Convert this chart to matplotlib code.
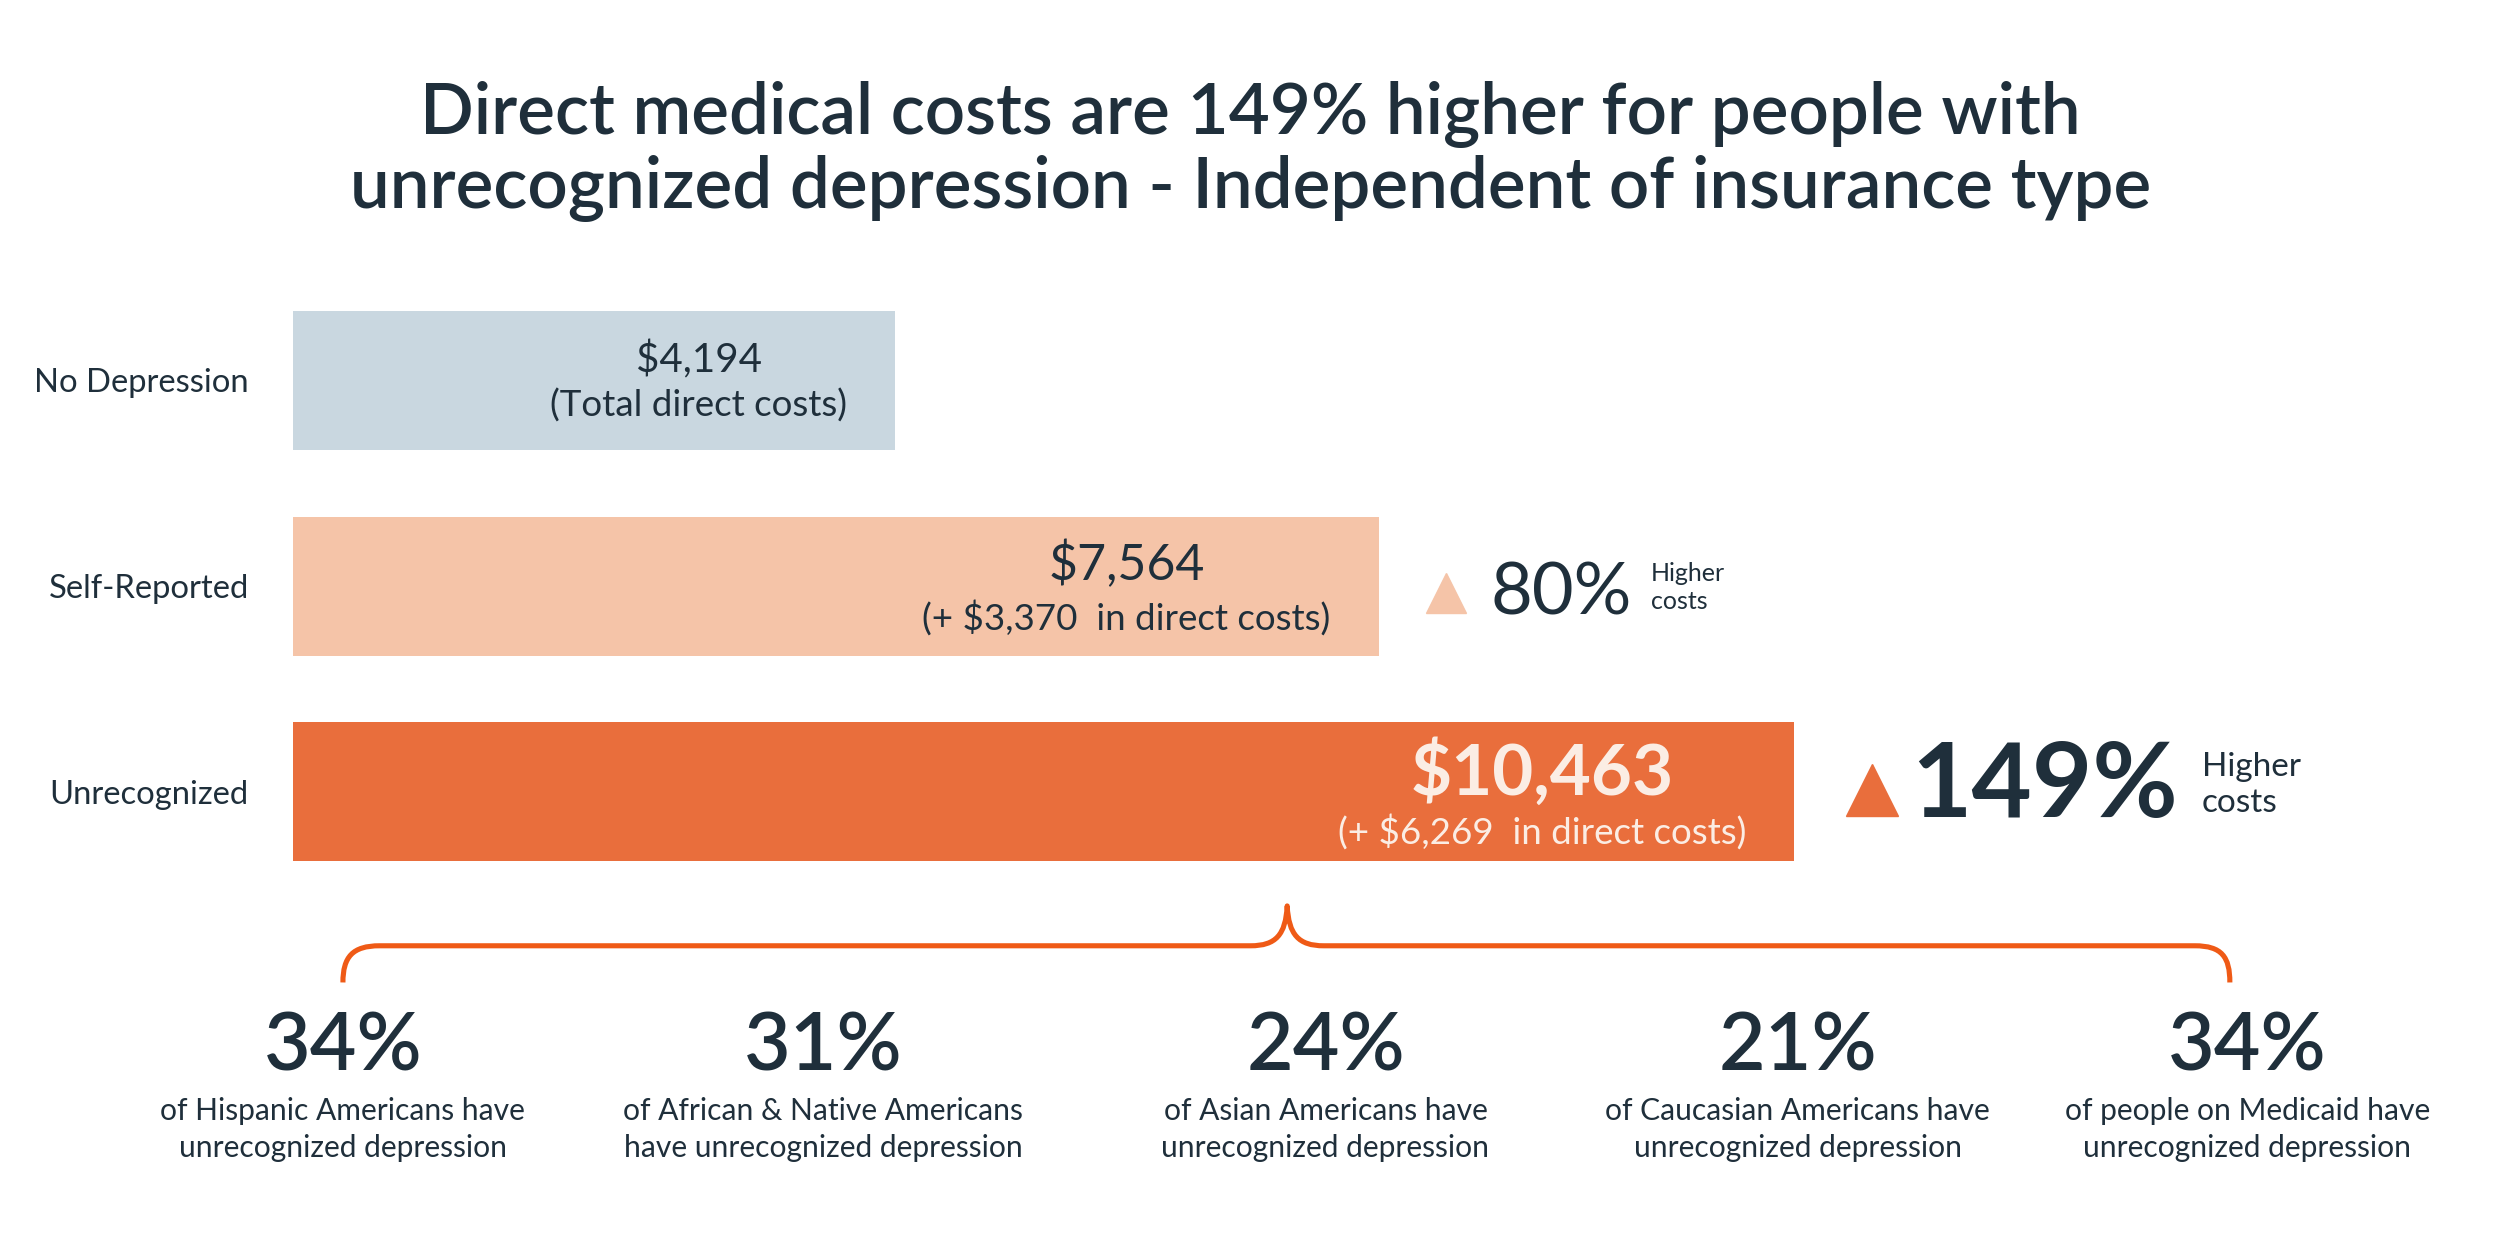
import matplotlib
matplotlib.use('Agg')
import matplotlib.pyplot as plt
from matplotlib.path import Path
from matplotlib.patches import PathPatch

plt.rcParams['font.family'] = ['Lato', 'DejaVu Sans']

# ---------------- data ----------------
categories = ['No Depression', 'Self-Reported', 'Unrecognized']
total_costs = [4194, 7564, 10463]
cost_notes = ['(Total direct costs)', '(+ $3,370  in direct costs)', '(+ $6,269  in direct costs)']
pct_higher = [None, 80, 149]

group_pcts = [34, 31, 24, 21, 34]
group_labels = [
    'of Hispanic Americans have\nunrecognized depression',
    'of African & Native Americans\nhave unrecognized depression',
    'of Asian Americans have\nunrecognized depression',
    'of Caucasian Americans have\nunrecognized depression',
    'of people on Medicaid have\nunrecognized depression',
]

title = ('Direct medical costs are 149% higher for people with\n'
         'unrecognized depression - Independent of insurance type')

# ---------------- style ----------------
DARK = '#1F2F3B'
CREAM = '#FBEDE4'
bar_colors = ['#C9D7E0', '#F5C4A8', '#E96E3C']
value_colors = [DARK, DARK, CREAM]
value_sizes = [29, 36, 51]
value_weights = ['normal', 'normal', 'bold']
note_sizes = [26.5, 26.5, 26.5]
BRACE = '#EF5A16'

FW, FH, DPI = 2501, 1252, 100
RW, RH = 1568, 785            # layout units
PX = FW / RW                  # layout unit -> pixels
S = PX * 72 / DPI             # layout unit -> points


def fx(x):
    return x / RW


def fy(y):
    return 1 - y / RH


fig = plt.figure(figsize=(FW / DPI, FH / DPI), dpi=DPI)
fig.patch.set_facecolor('white')

fig.text(0.5, fy(95), title, ha='center', va='center', fontsize=51,
         fontweight='semibold', color=DARK, linespacing=1.12)

# ---------------- bars ----------------
ax = fig.add_axes([fx(184), fy(540), fx(1125) - fx(184), (540 - 195) / RH])
n = len(categories)
bh = 87 / 129
ax.barh(range(n), total_costs, height=bh, color=bar_colors)
ax.set_xlim(0, max(total_costs))
ax.set_ylim(n - 1 + bh / 2, -bh / 2)
ax.set_yticks(range(n), categories, fontsize=23.6, color=DARK)
ax.tick_params(axis='y', length=0, pad=28 * S)
ax.set_xticks([])
for sp in ax.spines.values():
    sp.set_visible(False)
ax.patch.set_visible(False)

note_dy = [-16, -20, -25]
value_dy = [13, 13, 12]
notes = []
for i, (c, note) in enumerate(zip(total_costs, cost_notes)):
    t = ax.annotate(note, (c, i), xytext=(-30 * S, note_dy[i] * S),
                    textcoords='offset points', ha='right', va='center',
                    fontsize=note_sizes[i], color=value_colors[i])
    notes.append(t)

fig.canvas.draw()
renderer = fig.canvas.get_renderer()

for i, c in enumerate(total_costs):
    bb = notes[i].get_window_extent(renderer)
    end_px = ax.transData.transform((c, i))[0]
    off = (bb.x0 + bb.x1) / 2 - end_px
    ax.annotate(f'${c:,}', (c, i), xytext=(off, value_dy[i] * PX),
                textcoords='offset pixels', ha='center', va='center',
                fontsize=value_sizes[i], fontweight=value_weights[i],
                color=value_colors[i])

# triangles + percentages
tri_dx = [None, 42, 48.5]
tri_dy = [None, -4, 1]
tri_size = [None, 25, 33]
pct_dx = [None, 70, 73]
pct_dy = [None, -5, 3]
pct_size = [None, 52, 75]
pct_weight = [None, 'normal', 'bold']
hc_gap = [None, 12, 15]
hc_dy = [None, -1, 4]
hc_size = [None, 18, 24]

pct_texts = {}
for i, p in enumerate(pct_higher):
    if p is None:
        continue
    ax.plot([total_costs[i]], [i], marker='^', markersize=tri_size[i] * S,
            color=bar_colors[i], clip_on=False,
            transform=ax.transData + matplotlib.transforms.ScaledTranslation(
                tri_dx[i] * S / 72, tri_dy[i] * S / 72, fig.dpi_scale_trans))
    t = ax.annotate(f'{p}%', (total_costs[i], i),
                    xytext=(pct_dx[i] * S, pct_dy[i] * S),
                    textcoords='offset points', ha='left', va='center',
                    fontsize=pct_size[i], fontweight=pct_weight[i], color=DARK)
    pct_texts[i] = t

fig.canvas.draw()
for i, t in pct_texts.items():
    bb = t.get_window_extent(renderer)
    end_px = ax.transData.transform((total_costs[i], i))[0]
    off = bb.x1 - end_px + hc_gap[i] * PX
    ax.annotate('Higher\ncosts', (total_costs[i], i),
                xytext=(off, hc_dy[i] * PX), textcoords='offset pixels',
                ha='left', va='center', fontsize=hc_size[i], color=DARK,
                linespacing=1.25)

# ---------------- brace ----------------
bp = [
    (215, 616), (215, 600), (221, 593), (238, 593),
    (784, 593),
    (800, 593), (806, 586), (807, 568),
    (808, 586), (814, 593), (830, 593),
    (1376, 593),
    (1393, 593), (1398, 600), (1398, 616),
]
codes = [Path.MOVETO, Path.CURVE4, Path.CURVE4, Path.CURVE4,
         Path.LINETO,
         Path.CURVE4, Path.CURVE4, Path.CURVE4,
         Path.CURVE4, Path.CURVE4, Path.CURVE4,
         Path.LINETO,
         Path.CURVE4, Path.CURVE4, Path.CURVE4]
verts = [(fx(x), fy(y)) for x, y in bp]
fig.add_artist(PathPatch(Path(verts, codes), facecolor='none', edgecolor=BRACE,
                         lw=3.2 * S, transform=fig.transFigure,
                         capstyle='butt', joinstyle='round'))

# ---------------- bottom stats ----------------
stat_x = [215, 516, 831, 1127, 1409]
for xc, p, lab in zip(stat_x, group_pcts, group_labels):
    fig.text(fx(xc), fy(657), f'{p}%', ha='center', va='center', fontsize=58,
             fontweight='semibold', color=DARK)
    fig.text(fx(xc), fy(708), lab, ha='center', va='center', fontsize=21.6,
             color=DARK, linespacing=1.38)

fig.savefig('out.png', dpi=DPI, facecolor='white')
